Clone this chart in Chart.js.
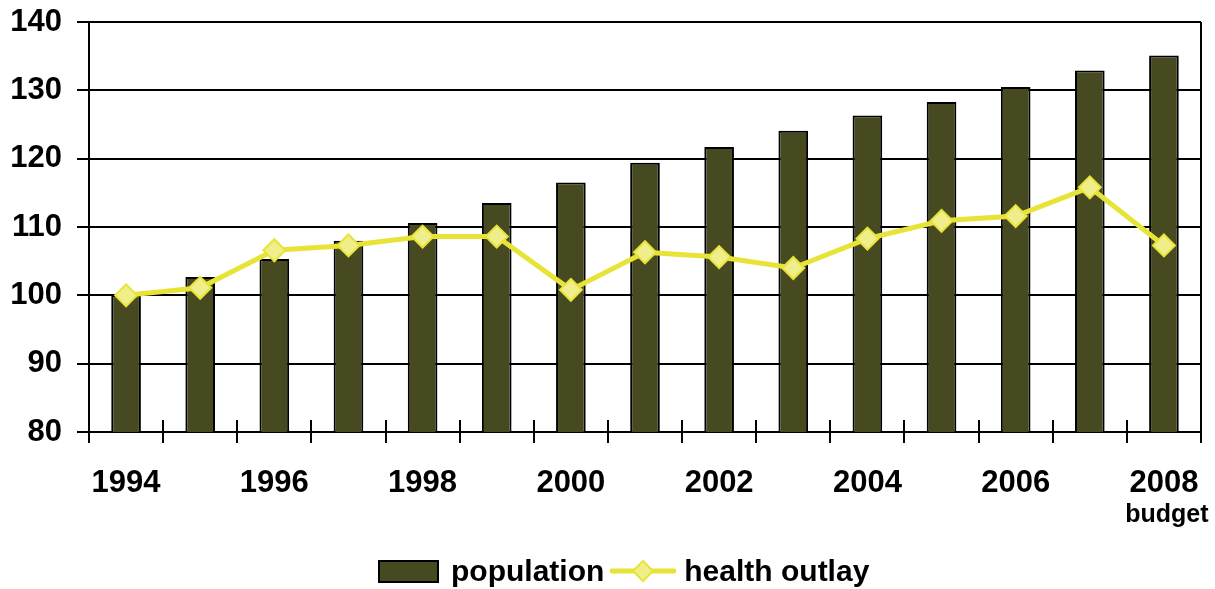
<!DOCTYPE html>
<html>
<head>
<meta charset="utf-8">
<script src="https://cdn.jsdelivr.net/npm/chart.js@4/dist/chart.umd.min.js"></script>
<style>
    html, body { margin: 0; padding: 0; background: #fff; }
    #wrap { position: relative; width: 1215px; height: 589px; }
    #chart { position: absolute; left: 0; top: 0; }
    .legend { position: absolute; top: 551px; left: 378px; height: 40px; display: flex; align-items: center;
              font-family: 'Liberation Sans', Arial, sans-serif; font-weight: bold; font-size: 30px; color: #000; }
    .legend-box { width: 57px; height: 19px; background: #474a21; border: 2px solid #000; margin-right: 12px; }
    .legend-line { margin: 0 8px 0 6px; }
</style>
</head>
<body>
<div id="wrap">
    <canvas id="chart" width="1215" height="589"></canvas>
    <div class="legend">
        <div class="legend-box"></div>
        <span>population</span>
        <svg class="legend-line" width="66" height="30" viewBox="0 0 66 30">
            <line x1="2" y1="15" x2="64" y2="15" stroke="#e7e437" stroke-width="5" stroke-linecap="round"/>
            <polygon points="33,5 43,15 33,25 23,15" fill="#f0ee8b" stroke="#e7e437" stroke-width="2"/>
        </svg>
        <span>health outlay</span>
    </div>
</div>
<script>
const years = ['1994', '1995', '1996', '1997', '1998', '1999', '2000', '2001', '2002', '2003', '2004', '2005', '2006', '2007', '2008'];
const subLabels = ['', '', '', '', '', '', '', '', '', '', '', '', '', '', 'budget'];
const population = [100, 102.7, 105.3, 108.0, 110.6, 113.5, 116.5, 119.4, 121.7, 124.1, 126.3, 128.3, 130.5, 132.9, 135.1];
const healthOutlay = [100, 101.1, 106.6, 107.3, 108.6, 108.6, 100.8, 106.3, 105.6, 104.0, 108.3, 110.9, 111.6, 115.8, 107.3];
const yTicks = [80, 90, 100, 110, 120, 130, 140];

const font = "'Liberation Sans', Arial, sans-serif";

// inner half of the x tick marks, right frame line and the "budget" sub label
const extrasPlugin = {
    id: 'extras',
    afterDraw(chart) {
        const ctx = chart.ctx;
        const area = chart.chartArea;
        const x = chart.scales.x;
        ctx.save();
        ctx.strokeStyle = '#000';
        ctx.lineWidth = 2;
        ctx.beginPath();
        for (let i = 0; i <= years.length; i++) {
            const px = Math.round(x.left + (x.width / years.length) * i);
            ctx.moveTo(px, area.bottom);
            ctx.lineTo(px, area.bottom - 12);
        }
        ctx.moveTo(area.right, area.top);
        ctx.lineTo(area.right, area.bottom);
        ctx.stroke();

        ctx.fillStyle = '#000';
        ctx.font = 'bold 25px ' + font;
        ctx.textAlign = 'center';
        ctx.textBaseline = 'alphabetic';
        subLabels.forEach((s, i) => {
            if (s) ctx.fillText(s, x.getPixelForValue(i) + 3, 522);
        });
        ctx.restore();
    }
};

new Chart(document.getElementById('chart'), {
    type: 'bar',
    data: {
        labels: years,
        datasets: [{
            type: 'line',
            label: 'health outlay',
            data: healthOutlay,
            borderColor: '#e7e437',
            borderWidth: 5,
            pointStyle: 'rectRot',
            pointRadius: 11,
            pointBackgroundColor: '#f0ee8b',
            pointBorderColor: '#e7e437',
            pointBorderWidth: 2,
            tension: 0,
            order: 0
        }, {
            label: 'population',
            data: population,
            backgroundColor: '#474a21',
            borderColor: '#000',
            borderWidth: 2,
            borderSkipped: 'bottom',
            categoryPercentage: 1,
            barPercentage: 0.4,
            order: 1
        }]
    },
    options: {
        responsive: false,
        animation: false,
        layout: { padding: { top: 22, right: 14, left: 0, bottom: 0 } },
        plugins: {
            legend: { display: false },
            tooltip: { enabled: false }
        },
        scales: {
            x: {
                offset: true,
                grid: {
                    offset: true,
                    drawOnChartArea: false,
                    drawTicks: true,
                    tickLength: 11,
                    color: '#000',
                    lineWidth: 2
                },
                border: { display: true, color: '#000', width: 2 },
                ticks: {
                    autoSkip: false,
                    maxRotation: 0,
                    padding: 22,
                    color: '#000',
                    font: { family: font, weight: 'bold', size: 31 },
                    callback: (v, i) => i % 2 === 0 ? years[i] : ''
                },
                afterFit: (scale) => {
                    scale.height = 157;
                    scale.paddingLeft = 0;
                    scale.paddingRight = 0;
                }
            },
            y: {
                min: yTicks[0],
                max: yTicks[yTicks.length - 1],
                afterBuildTicks: (scale) => { scale.ticks = yTicks.map(v => ({ value: v })); },
                grid: {
                    color: '#000',
                    lineWidth: 2,
                    drawTicks: true,
                    tickLength: 12
                },
                border: { display: true, color: '#000', width: 2 },
                ticks: {
                    padding: 15,
                    color: '#000',
                    font: { family: font, weight: 'bold', size: 31 }
                },
                afterFit: (scale) => {
                    scale.width = 89;
                    scale.paddingTop = 0;
                    scale.paddingBottom = 0;
                }
            }
        }
    },
    plugins: [extrasPlugin]
});
</script>
</body>
</html>
